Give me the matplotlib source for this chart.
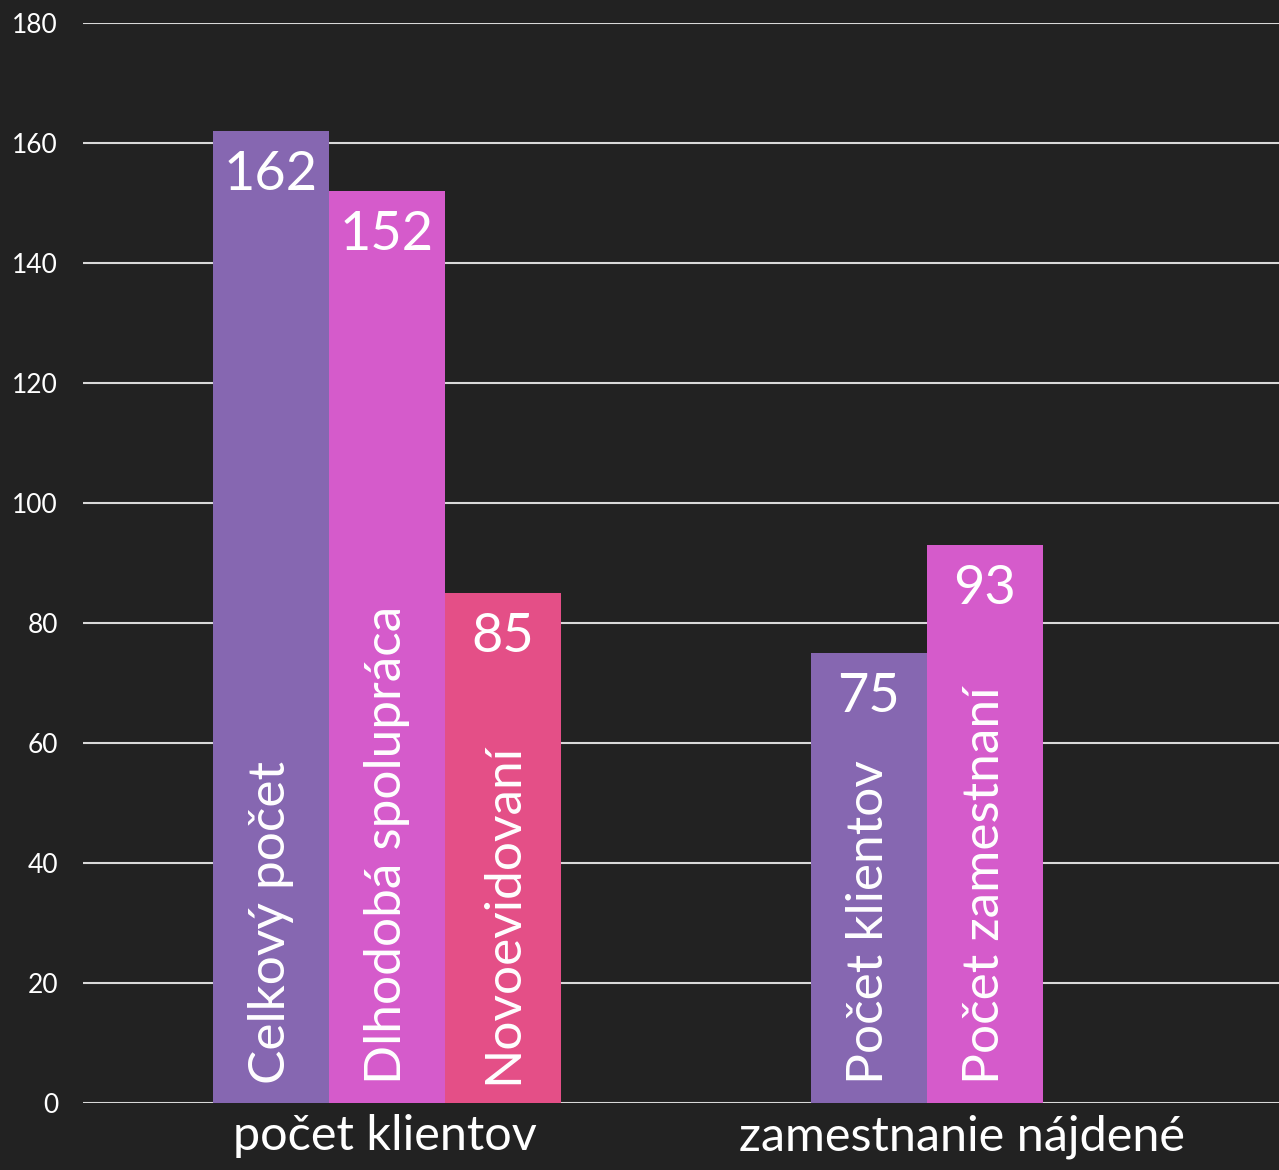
import numpy as np
import matplotlib.pyplot as plt

# data
categories = ["počet klientov", "zamestnanie nájdené"]
slot1_values = [162, 75]
slot1_names = ["Celkový počet", "Počet klientov"]
slot2_values = [152, 93]
slot2_names = ["Dlhodobá spolupráca", "Počet zamestnaní"]
slot3_values = [85, 0]
slot3_names = ["Novoevidovaní", ""]
y_ticks = [0, 20, 40, 60, 80, 100, 120, 140, 160, 180]

colors = ["#8667B1", "#D55BCB", "#E44F87"]
bg = "#222222"

plt.rcParams["font.family"] = ["Lato", "DejaVu Sans"]

fig = plt.figure(figsize=(12.79, 11.70), dpi=100, facecolor=bg)
ax = fig.add_axes([83 / 1279, 1 - 1103 / 1170, 1 - 83 / 1279, 1080 / 1170])
ax.set_facecolor(bg)

x = np.arange(len(categories))
w = 0.194
shift = 0.008
slots = [(slot1_values, slot1_names), (slot2_values, slot2_names), (slot3_values, slot3_names)]

for i, (vals, names) in enumerate(slots):
    pos = x + (i - 1) * w + shift
    for xp, v, name in zip(pos, vals, names):
        if v <= 0:
            continue
        ax.bar(xp, v, width=w, color=colors[i], zorder=3)
        ax.annotate(str(v), (xp, v), xytext=(0, -14), textcoords="offset points",
                    ha="center", va="top", color="white", fontsize=39, zorder=4)
        ax.text(xp, 3.2, name, rotation=90, ha="center", va="bottom",
                color="white", fontsize=37, zorder=4)

ax.set_xlim(-0.5, 1.5)
ax.set_ylim(0, 180)
ax.set_yticks(y_ticks)
ax.set_yticklabels([str(t) for t in y_ticks], color="white", fontsize=19)
ax.set_xticks(x + [0.005, -0.03])
ax.set_xticklabels(categories, color="white", fontsize=35)
ax.tick_params(axis="y", length=0, pad=18)
ax.tick_params(axis="x", length=0, pad=8)
ax.yaxis.grid(True, color="#d9d9d9", linewidth=1.5, zorder=0)
ax.set_axisbelow(True)
for s in ax.spines.values():
    s.set_visible(False)

fig.savefig("out.png", dpi=100, facecolor=bg)
plt.close(fig)
